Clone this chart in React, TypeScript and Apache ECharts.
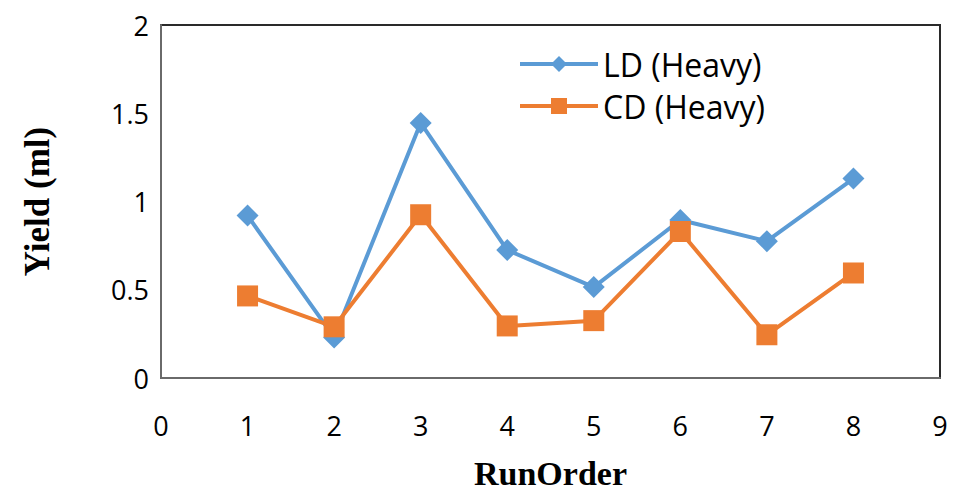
import React, { useEffect, useRef } from "react";
import * as echarts from "echarts";

const runOrder = [1, 2, 3, 4, 5, 6, 7, 8];
const ldHeavy = [0.92, 0.23, 1.445, 0.725, 0.515, 0.895, 0.775, 1.13];
const cdHeavy = [0.465, 0.29, 0.925, 0.295, 0.325, 0.83, 0.245, 0.595];
const seriesNames = ["LD (Heavy)", "CD (Heavy)"];

export default function App() {
  const ref = useRef<HTMLDivElement>(null);
  useEffect(() => {
    const chart = echarts.init(ref.current!, null, { renderer: "svg" });
    const sans = "'Open Sans', 'Liberation Sans', sans-serif";
    const serif = "'Liberation Serif', 'Times New Roman', serif";
    chart.setOption({
      animation: false,
      grid: {
        left: 161,
        right: 14,
        top: 25,
        bottom: 115,
        outerBoundsMode: "none",
        containLabel: false,
        show: true,
        borderColor: "#2a2a2a",
        borderWidth: 2,
        backgroundColor: "#fff",
      },
      legend: {
        left: 513,
        top: 42,
        orient: "vertical",
        itemWidth: 78,
        itemHeight: 20,
        itemGap: 8,
        lineStyle: { width: 4 },
        itemStyle: { borderWidth: 0 },
        textStyle: { fontFamily: sans, fontSize: 32, lineHeight: 34, color: "#000" },
        data: seriesNames,
      },
      xAxis: {
        type: "value",
        min: 0,
        max: 9,
        interval: 1,
        name: "RunOrder",
        nameLocation: "middle",
        nameGap: 76,
        nameTextStyle: { fontFamily: serif, fontSize: 34, lineHeight: 38, fontWeight: "bold", color: "#000" },
        axisLine: { show: true, lineStyle: { color: "#6a6a6a", width: 2 } },
        axisTick: { show: false },
        splitLine: { show: false },
        axisLabel: { fontFamily: sans, fontSize: 27, color: "#000", margin: 34 },
      },
      yAxis: {
        type: "value",
        min: 0,
        max: 2,
        interval: 0.5,
        name: "Yield (ml)",
        nameLocation: "middle",
        nameGap: 106,
        nameTextStyle: { fontFamily: serif, fontSize: 35, fontWeight: "bold", color: "#000" },
        axisLine: { show: true, lineStyle: { color: "#6a6a6a", width: 2 } },
        axisTick: { show: false },
        splitLine: { show: false },
        axisLabel: { fontFamily: sans, fontSize: 27, color: "#000", margin: 12 },
      },
      series: [
        {
          name: seriesNames[0],
          type: "line",
          data: runOrder.map((x, i) => [x, ldHeavy[i]]),
          symbol: "diamond",
          symbolSize: 22,
          lineStyle: { color: "#5b9bd5", width: 4 },
          itemStyle: { color: "#5b9bd5" },
        },
        {
          name: seriesNames[1],
          type: "line",
          data: runOrder.map((x, i) => [x, cdHeavy[i]]),
          symbol: "rect",
          symbolSize: 21,
          lineStyle: { color: "#ed7d31", width: 4 },
          itemStyle: { color: "#ed7d31" },
        },
      ],
    });
    return () => chart.dispose();
  }, []);
  return <div ref={ref} style={{ width: 954, height: 493, position: "absolute", left: 0, top: 0 }} />;
}
